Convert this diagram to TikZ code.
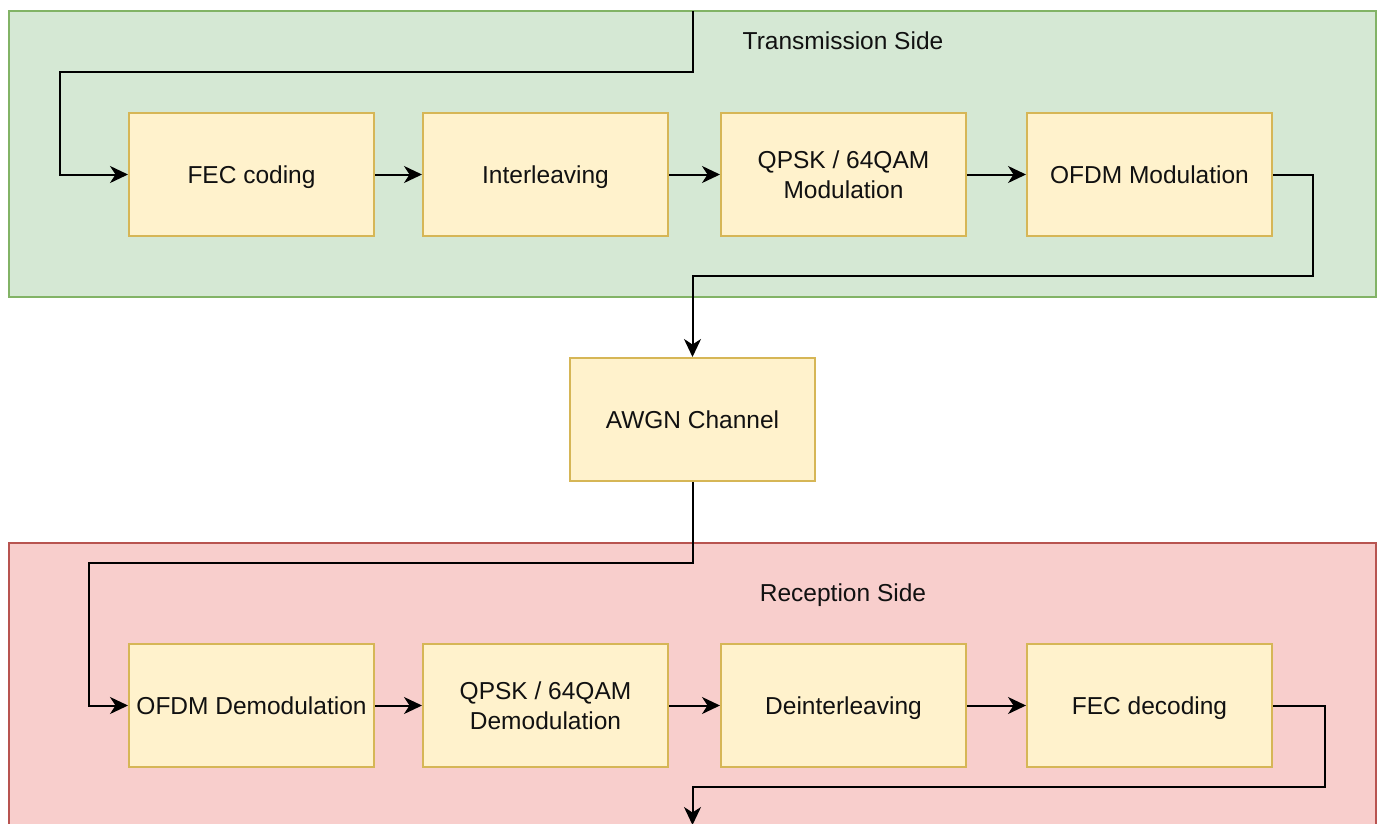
\documentclass[tikz,border=0pt]{standalone}
\usepackage{fontspec}
\setmainfont{Liberation Sans}
\usetikzlibrary{arrows.meta}
\definecolor{gfill}{HTML}{D5E8D4}
\definecolor{gline}{HTML}{82B366}
\definecolor{rfill}{HTML}{F8CECC}
\definecolor{rline}{HTML}{B85450}
\definecolor{yfill}{HTML}{FFF2CC}
\definecolor{yline}{HTML}{D6B656}
\definecolor{txt}{HTML}{111111}
\begin{document}
\begin{tikzpicture}[x=1pt,y=-1pt,
  container/.style={draw, line width=2pt, minimum width=1367pt, inner sep=0pt},
  block/.style={draw=yline, fill=yfill, line width=2pt, minimum width=245pt, minimum height=123pt,
    inner sep=0pt, align=center, font=\fontsize{24.5}{30}\selectfont, text=txt},
  one/.style={text height=22.2pt, text depth=5.2pt},
  lbl/.style={font=\fontsize{24.5}{30}\selectfont, text=txt, inner sep=0pt, one},
  arr/.style={line width=2pt, -{Stealth[length=18pt, width=17pt, inset=5.5pt]}}]
\useasboundingbox (0,0) rectangle (1381,823);
\clip (0,0) rectangle (1381,823);
\node[container, draw=gline, fill=gfill, minimum height=286pt] (tx) at (692.5,154) {};
\node[container, draw=rline, fill=rfill, minimum height=317pt] (rx) at (692.5,701.5) {};
\node[lbl] (txl) at (843,40.5) {Transmission Side};
\node[lbl] (rxl) at (843,592.5) {Reception Side};

\node[block, one] (fec) at (251.5,174.5) {FEC coding};
\node[block, one] (intl) at (545.5,174.5) {Interleaving};
\node[block] (mod) at (843.5,174.5) {QPSK / 64QAM\\Modulation};
\node[block, one] (ofdm) at (1149.5,174.5) {OFDM Modulation};
\node[block, one] (awgn) at (692.5,419.5) {AWGN Channel};
\node[block, one] (ofdmd) at (251.5,705.5) {OFDM Demodulation};
\node[block] (demod) at (545.5,705.5) {QPSK / 64QAM\\Demodulation};
\node[block, one] (deint) at (843.5,705.5) {Deinterleaving};
\node[block, one] (fecd) at (1149.5,705.5) {FEC decoding};

\coordinate (src) at (692.5,11);
\coordinate (sink) at (692.5,825);

\draw[arr] (src) -- (692.5,72) -| (60,174.5) -- (fec.west);
\draw[arr] (fec) -- (intl);
\draw[arr] (intl) -- (mod);
\draw[arr] (mod) -- (ofdm);
\draw[arr] (ofdm.east) -- (1313,174.5) |- (692.5,276) -- (awgn.north);
\draw[arr] (awgn.south) -- (692.5,563) -| (89,705.5) -- (ofdmd.west);
\draw[arr] (ofdmd) -- (demod);
\draw[arr] (demod) -- (deint);
\draw[arr] (deint) -- (fecd);
\draw[arr] (fecd.east) -- (1325,705.5) |- (692.5,787) -- (sink);
\end{tikzpicture}
\end{document}
